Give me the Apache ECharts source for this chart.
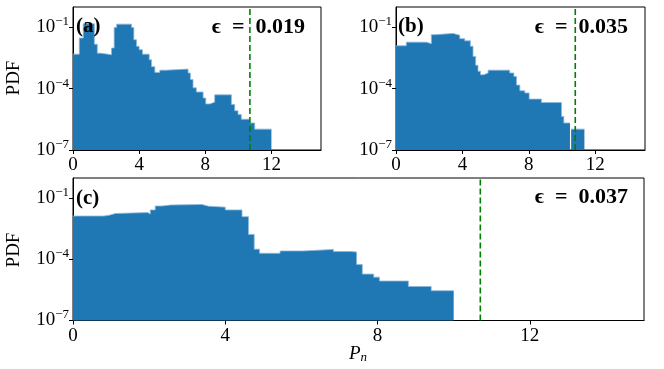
<!DOCTYPE html>
<html><head><meta charset="utf-8">
<script src="https://cdn.jsdelivr.net/npm/echarts@6/dist/echarts.min.js"></script>
<style>html,body{margin:0;padding:0;background:#fff}#c{width:664px;height:369px}</style>
</head><body><div id="c"></div>
<script>
// ---- data (bin edges along P_n, PDF per bin; null = empty bin) ----
const edgesA = [0, 0.38, 0.62, 1.29, 1.47, 1.67, 2.33, 2.49, 2.64, 3.54, 3.68, 3.84, 4.0, 4.2, 4.61, 4.75, 4.95, 5.25, 5.65, 6.96, 7.1, 7.26, 7.46, 7.87, 8.03, 8.27, 8.57, 9.58, 9.78, 9.98, 10.18, 10.68, 10.99, 12.0];
const pdfA   = [4.9e-3, 3.0e-2, 0.15, 1.5e-2, 5.5e-3, 4.6e-3, 9.8e-3, 0.10, 0.145, 0.10, 2.5e-2, 1.2e-2, 8.1e-3, 4.9e-3, 2.6e-3, 1.2e-3, 6.3e-4, 8.1e-4, 9.1e-4, 5.9e-4, 2.8e-4, 1.1e-4, 6.9e-5, 3.5e-5, 1.8e-5, 2.2e-5, 5.0e-5, 1.7e-5, 8.3e-6, 5.4e-6, 3.2e-6, 2.1e-6, 1.05e-6];

const edgesB = [0, 0.62, 1.83, 2.13, 2.33, 3.44, 3.84, 4.14, 4.48, 4.64, 4.8, 4.94, 5.09, 5.29, 5.55, 6.85, 7.1, 7.26, 7.46, 7.76, 8.02, 8.76, 9.97, 10.11, 10.48, 10.55, 11.35];
const pdfB   = [1.26e-2, 1.9e-2, 1.6e-2, 4.4e-2, 5.1e-2, 4.1e-2, 2.8e-2, 2.2e-2, 1.2e-2, 3.8e-3, 1.4e-3, 7.1e-4, 4.8e-4, 5.9e-4, 8.1e-4, 5.9e-4, 4.0e-4, 1.5e-4, 7.9e-5, 6.2e-5, 3.1e-5, 2.1e-5, 4.4e-6, 2.1e-6, null, 1.05e-6];

const edgesC = [0, 0.81, 0.96, 1.11, 1.96, 2.03, 2.16, 2.34, 2.56, 3.39, 3.56, 4.0, 4.44, 4.61, 4.76, 4.9, 5.44, 6.05, 6.84, 7.3, 7.45, 7.6, 7.9, 8.05, 8.81, 9.41, 10.0];
const pdfC   = [1.35e-2, 1.5e-2, 1.8e-2, 2.0e-2, 1.7e-2, 2.7e-2, 4.2e-2, 4.7e-2, 5.0e-2, 4.1e-2, 3.7e-2, 2.7e-2, 1.26e-2, 1.7e-3, 3.2e-4, 2.0e-4, 2.6e-4, 3.1e-4, 2.45e-4, 2.3e-4, 5.6e-5, 1.9e-5, 1.35e-5, 8.7e-6, 4.7e-6, 2.9e-6];

const thresholds = [10.7, 10.8, 10.7];
const panelTags = ['(a)', '(b)', '(c)'];
const epsLabels = ['ϵ\u2002=\u20020.019', 'ϵ\u2002=\u20020.035', 'ϵ\u2002=\u20020.037'];
const xTickValues = [0, 4, 8, 12];
const yTickExponents = [-7, -4, -1];
const xRange = [0, 15];
const yExpRange = [-7, 0];
const xAxisTitle = 'P';
const xAxisSub = 'n';
const yAxisTitle = 'PDF';

// ---- chart ----
const SERIF = '"Liberation Serif", "DejaVu Serif", serif';
const FS = 19;
const yOff = -yExpRange[0];
const toAxis = p => Math.log10(p) + yOff;

// step outline points: left edge of every bin, plus closing right edge
function stepPoints(edges, pdf) {
  const out = [];
  let prev = null;
  for (let i = 0; i < pdf.length; i++) {
    if (pdf[i] == null) {
      if (prev != null) out.push([edges[i], prev]);
      out.push([edges[i], null]);
      prev = null;
      continue;
    }
    const v = toAxis(pdf[i]);
    out.push([edges[i], v]);
    prev = v;
  }
  out.push([edges[pdf.length], prev]);
  return out;
}
const datasets = [stepPoints(edgesA, pdfA), stepPoints(edgesB, pdfB), stepPoints(edgesC, pdfC)];

const grids = [
  { left: 73, top: 7, width: 248, height: 143 },
  { left: 396, top: 7, width: 249, height: 143 },
  { left: 73, top: 178, width: 571, height: 142.5 }
];

const yTickAxis = yTickExponents.map(e => e + yOff);

function xAxisCfg(i) {
  return {
    gridIndex: i, type: 'value', min: xRange[0], max: xRange[1], interval: 4,
    splitLine: { show: false },
    axisLine: { show: true, onZero: false, lineStyle: { color: '#000', width: 1 } },
    axisTick: { show: true, length: 4, lineStyle: { color: '#000', width: 1 }, customValues: xTickValues },
    axisLabel: {
      customValues: xTickValues, margin: 6, color: '#000', fontFamily: SERIF, fontSize: FS,
      formatter: v => (xTickValues.indexOf(v) >= 0 ? String(v) : '')
    }
  };
}
function yAxisCfg(i) {
  return {
    gridIndex: i, type: 'value', min: 0, max: yExpRange[1] + yOff, interval: 3,
    splitLine: { show: false },
    axisLine: { show: true, onZero: false, lineStyle: { color: '#000', width: 1 } },
    axisTick: { show: true, length: 4, lineStyle: { color: '#000', width: 1 }, customValues: yTickAxis },
    axisLabel: {
      customValues: yTickAxis, margin: 4, color: '#000',
      formatter: v => (yTickAxis.indexOf(v) >= 0 ? '{b|10}{s|\u2212' + Math.abs(v - yOff) + '}' : ''),
      rich: {
        b: { fontFamily: SERIF, fontSize: FS, lineHeight: 24, color: '#000' },
        s: { fontFamily: SERIF, fontSize: 13, lineHeight: 12, verticalAlign: 'top', color: '#000' }
      }
    }
  };
}

const series = [];
for (let i = 0; i < 3; i++) {
  series.push({
    type: 'line', xAxisIndex: i, yAxisIndex: i, step: 'end', symbol: 'none', silent: true, z: 2,
    data: datasets[i], connectNulls: false,
    lineStyle: { color: '#8ab8dc', width: 0.8 },
    areaStyle: { color: '#1f77b4', opacity: 1, origin: 'start' }
  });
  series.push({
    type: 'line', xAxisIndex: i, yAxisIndex: i, symbol: 'none', silent: true, z: 3,
    data: [[thresholds[i], 0], [thresholds[i], yExpRange[1] + yOff]],
    lineStyle: { color: '#008000', width: 1.6, type: [6, 3] }
  });
}

const graphic = [];
const tagPos = [[76, 27], [398, 27], [76, 199]];
const epsPos = [[305, 27], [628, 27], [628, 197]];
for (let i = 0; i < 3; i++) {
  graphic.push({ type: 'text', x: tagPos[i][0], y: tagPos[i][1], z: 100,
    style: { text: panelTags[i], font: 'bold 21px ' + SERIF, fill: '#000', textAlign: 'left', textVerticalAlign: 'middle' } });
  graphic.push({ type: 'text', x: epsPos[i][0], y: epsPos[i][1], z: 100,
    style: { text: epsLabels[i], font: 'bold 22px ' + SERIF, fill: '#000', textAlign: 'right', textVerticalAlign: 'middle' } });
}
graphic.push({ type: 'text', x: 14, y: 78, rotation: Math.PI / 2, z: 100,
  style: { text: yAxisTitle, font: FS + 'px ' + SERIF, fill: '#000', textAlign: 'center', textVerticalAlign: 'middle' } });
graphic.push({ type: 'text', x: 14, y: 250, rotation: Math.PI / 2, z: 100,
  style: { text: yAxisTitle, font: FS + 'px ' + SERIF, fill: '#000', textAlign: 'center', textVerticalAlign: 'middle' } });
graphic.push({ type: 'text', x: 358, y: 354, z: 100,
  style: {
    text: '{p|' + xAxisTitle + '}{n|' + xAxisSub + '}', textAlign: 'center', textVerticalAlign: 'middle',
    rich: {
      p: { fontFamily: SERIF, fontStyle: 'italic', fontSize: FS, lineHeight: 20, fill: '#000', color: '#000' },
      n: { fontFamily: SERIF, fontStyle: 'italic', fontSize: 13, lineHeight: 12, verticalAlign: 'bottom', fill: '#000', color: '#000' }
    }
  } });

const chart = echarts.init(document.getElementById('c'), null, { renderer: 'canvas' });
chart.setOption({
  animation: false,
  backgroundColor: '#fff',
  grid: grids.map(g => Object.assign({ show: true, borderColor: '#000', borderWidth: 1, backgroundColor: 'transparent', containLabel: false, outerBoundsMode: 'none' }, g)),
  xAxis: [0, 1, 2].map(xAxisCfg),
  yAxis: [0, 1, 2].map(yAxisCfg),
  series: series,
  graphic: graphic
});
</script>
</body></html>
